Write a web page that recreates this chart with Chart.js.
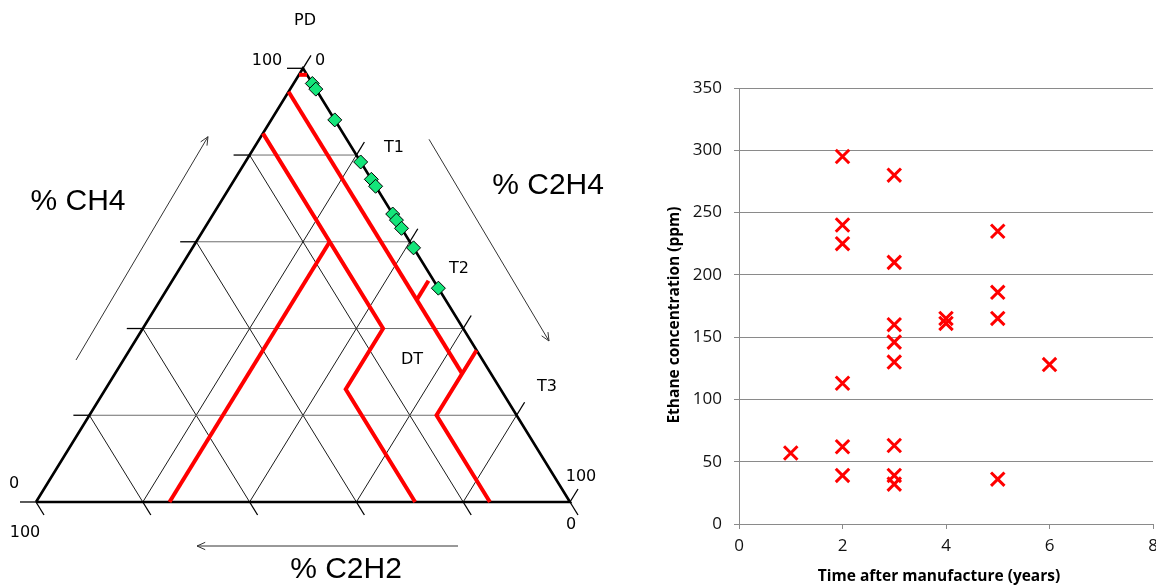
<!DOCTYPE html>
<html><head><meta charset="utf-8">
<script src="https://cdn.jsdelivr.net/npm/chart.js@4.4.1/dist/chart.umd.min.js"></script>
<style>
html,body{margin:0;padding:0;background:#fff;overflow:hidden;width:1156px;height:585px;}
#tri{position:absolute;left:0;top:0;}
#sc{position:absolute;left:640px;top:0;}
</style></head><body>
<canvas id="tri" width="640" height="585"></canvas>
<canvas id="sc" width="540" height="585"></canvas>
<script>
// ===== Duval triangle data: points are [CH4 %, C2H4 %, C2H2 %] =====
const gridLevels = [20, 40, 60, 80];
const tickLevels = [0, 20, 40, 60, 80, 100];
const tickExtent = 3;
const triangleOutline = [[0, 0, 100], [100, 0, 0], [0, 100, 0], [0, 0, 100]];
const boundaryPD   = [[98.5, 0, 1.5], [98.5, 1.5, 0]];
const boundaryC2H2Low = [[94.6, 0, 5.4], [46.6, 48, 5.4], [29.6, 65, 5.4]];
const boundaryT2T3 = [[46.6, 48, 5.4], [51, 48, 1]];
const boundaryT3   = [[35, 65, 0], [20, 65, 15], [0, 85, 15]];
const boundaryD2   = [[85, 0, 15], [40, 45, 15], [26, 45, 29], [0, 71, 29]];
const boundaryD1D2 = [[60, 25, 15], [0, 25, 75]];
const sampleCH4  = [96.5, 95.2, 88.1, 78.4, 74.4, 72.8, 66.4, 65.0, 63.1, 58.6, 49.3];
const sampleC2H4 = [3.5, 4.8, 11.9, 21.6, 25.6, 27.2, 33.6, 35.0, 36.9, 41.4, 50.7];
const sampleC2H2 = [0, 0, 0, 0, 0, 0, 0, 0, 0, 0, 0];

// ===== Scatter data =====
const years  = [1, 2, 2, 2, 2, 2, 2, 3, 3, 3, 3, 3, 3, 3, 3, 4, 4, 5, 5, 5, 5, 6];
const ethane = [57, 295, 240, 225, 113, 62, 39, 280, 210, 160, 146, 130, 63, 39, 32, 165, 161, 235, 186, 165, 36, 128];
const xTickStep = 2, xMax = 8;
const yTickStep = 50, yMax = 350;
const xTitle = 'Time after manufacture (years)';
const yTitle = 'Ethane concentration (ppm)';

// ternary -> cartesian (triangle base = 100 wide, height = 100)
const tern = p => ({ x: p[1] + p[0] / 2, y: p[0] });

const triSets = [];
function addLine(pts, color, width, order) {
  triSets.push({ data: pts.map(tern), showLine: true, borderColor: color, borderWidth: width,
    pointRadius: 0, pointHoverRadius: 0, fill: false, tension: 0, order: order,
    borderJoinStyle: 'miter', borderCapStyle: 'butt' });
}
// grid
gridLevels.forEach(v => {
  addLine([[v, 0, 100 - v], [v, 100 - v, 0]], '#6e6e6e', 1, 5);      // const CH4
  addLine([[0, v, 100 - v], [100 - v, v, 0]], '#1a1a1a', 1, 5);      // const C2H4
  addLine([[100 - v, 0, v], [0, 100 - v, v]], '#1a1a1a', 1, 5);      // const C2H2
});
// ticks
tickLevels.forEach(v => {
  addLine([[v, 0, 100 - v], [v, -tickExtent, 100 - v + tickExtent]], '#000', 1.3, 4);
  addLine([[100 - v, v, 0], [100 - v + tickExtent, v, -tickExtent]], '#000', 1.3, 4);
  addLine([[0, 100 - v, v], [-tickExtent, 100 - v + tickExtent, v]], '#000', 1.3, 4);
});
addLine(triangleOutline, '#000', 2.6, 3);
[boundaryPD, boundaryC2H2Low, boundaryT2T3, boundaryT3, boundaryD2, boundaryD1D2]
  .forEach(b => addLine(b, '#ff0000', 4, 2));
triSets.push({ data: sampleCH4.map((a, i) => tern([a, sampleC2H4[i], sampleC2H2[i]])),
  pointStyle: 'rectRot', pointRadius: 7, pointHoverRadius: 7, backgroundColor: '#14e57a',
  borderColor: '#000', borderWidth: 1, showLine: false, order: 0 });

const annot = {
  id: 'annot',
  afterDatasetsDraw(chart, args, opts) {
    const { ctx } = chart; const sx = chart.scales.x, sy = chart.scales.y;
    ctx.save();
    (opts.arrows || []).forEach(a => {
      const x1 = sx.getPixelForValue(a.from[0]), y1 = sy.getPixelForValue(a.from[1]);
      const x2 = sx.getPixelForValue(a.to[0]), y2 = sy.getPixelForValue(a.to[1]);
      const ang = Math.atan2(y2 - y1, x2 - x1), h = 9, s = 0.42;
      ctx.strokeStyle = '#333'; ctx.lineWidth = 1;
      ctx.beginPath(); ctx.moveTo(x1, y1); ctx.lineTo(x2, y2);
      ctx.moveTo(x2 - h * Math.cos(ang - s), y2 - h * Math.sin(ang - s));
      ctx.lineTo(x2, y2);
      ctx.lineTo(x2 - h * Math.cos(ang + s), y2 - h * Math.sin(ang + s));
      ctx.stroke();
    });
    (opts.labels || []).forEach(l => {
      ctx.font = l.font; ctx.fillStyle = '#000'; ctx.textAlign = 'center'; ctx.textBaseline = 'middle';
      ctx.fillText(l.text, sx.getPixelForValue(l.x), sy.getPixelForValue(l.y));
    });
    ctx.restore();
  }
};
const small = '16px "DejaVu Sans"', big = '30px "Liberation Sans"';

new Chart(document.getElementById('tri'), {
  type: 'scatter',
  data: { datasets: triSets },
  options: {
    responsive: false, animation: false, events: [],
    layout: { padding: 0, autoPadding: false },
    plugins: { legend: { display: false }, tooltip: { enabled: false },
      annot: {
        arrows: [
          { from: [7.49, 32.74], to: [32.21, 84.23] },
          { from: [73.6, 83.63], to: [96.07, 37.12] },
          { from: [79.03, -10.15], to: [30.15, -10.15] }
        ],
        labels: [
          { text: 'PD', x: 50.37, y: 110.9, font: small },
          { text: '100', x: 43.26, y: 101.7, font: small },
          { text: '0', x: 53.2, y: 101.7, font: small },
          { text: 'T1', x: 67.04, y: 81.6, font: small },
          { text: 'T2', x: 79.21, y: 53.7, font: small },
          { text: 'DT', x: 70.4, y: 32.7, font: small },
          { text: 'T3', x: 95.7, y: 26.6, font: small },
          { text: '0', x: -4.12, y: 4.15, font: small },
          { text: '100', x: -2.06, y: -7.15, font: small },
          { text: '100', x: 102.06, y: 5.9, font: small },
          { text: '0', x: 100.2, y: -5.3, font: small },
          { text: '% CH4', x: 7.87, y: 69.2, font: big },
          { text: '% C2H4', x: 95.9, y: 72.9, font: big },
          { text: '% C2H2', x: 58.05, y: -15.6, font: big }
        ]
      }
    },
    scales: {
      x: { type: 'linear', display: false, min: -6.742, max: 113.11 },
      y: { type: 'linear', display: false, min: -19.14, max: 115.75 }
    }
  },
  plugins: [annot]
});

// ===== Scatter chart =====
const axisTitles = {
  id: 'axisTitles',
  afterDraw(chart, args, opts) {
    const { ctx } = chart;
    ctx.save();
    ctx.font = opts.font; ctx.fillStyle = '#000';
    ctx.textAlign = 'center'; ctx.textBaseline = 'middle';
    ctx.fillText(opts.x.text, opts.x.cx, opts.x.cy);
    ctx.translate(opts.y.cx, opts.y.cy); ctx.rotate(-Math.PI / 2);
    ctx.fillText(opts.y.text, 0, 0);
    ctx.restore();
  }
};
const tickFont = { family: '"Open Sans"', size: 17 };
new Chart(document.getElementById('sc'), {
  type: 'scatter',
  data: { datasets: [{
    data: years.map((x, i) => ({ x: x, y: ethane[i] })),
    pointStyle: 'crossRot', pointRadius: 9.5, pointHoverRadius: 9.5,
    borderColor: '#ff0000', backgroundColor: '#ff0000', borderWidth: 3
  }] },
  options: {
    responsive: false, animation: false, events: [],
    layout: { padding: { left: 0, right: 27, top: 88, bottom: 0 }, autoPadding: false },
    plugins: { legend: { display: false }, tooltip: { enabled: false },
      axisTitles: {
        font: 'bold 15.5px "Open Sans"',
        x: { text: xTitle, cx: 299, cy: 577 },
        y: { text: yTitle, cx: 35, cy: 315 }
      }
    },
    scales: {
      x: {
        type: 'linear', min: 0, max: xMax,
        ticks: { stepSize: xTickStep, font: tickFont, color: '#111', padding: 7 },
        grid: { drawOnChartArea: false, drawTicks: true, tickLength: 5, color: '#8a8a8a' },
        border: { color: '#8a8a8a', width: 1 },
        afterFit: s => { s.height = 61; }
      },
      y: {
        type: 'linear', min: 0, max: yMax,
        ticks: { stepSize: yTickStep, font: tickFont, color: '#111', padding: 12 },
        grid: { color: '#8a8a8a', tickLength: 5, lineWidth: 1 },
        border: { color: '#8a8a8a', width: 1 },
        afterFit: s => { s.width = 99; }
      }
    }
  },
  plugins: [axisTitles]
});
</script>
</body></html>
